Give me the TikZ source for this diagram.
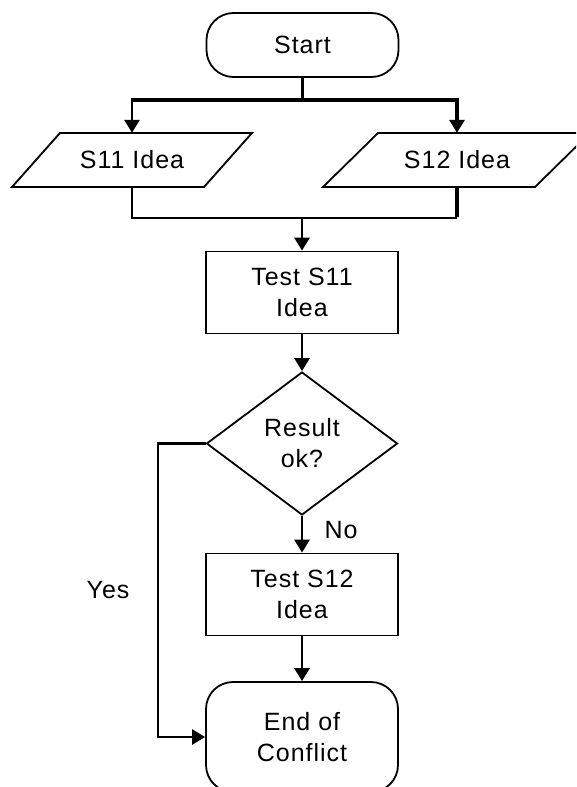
\documentclass[tikz,border=0pt]{standalone}
\usepackage{fontspec}
\setmainfont{Liberation Sans}[LetterSpace=4]
\usetikzlibrary{arrows.meta,shapes.geometric}
\begin{document}
\begin{tikzpicture}[x=1pt,y=-1pt,
  txt/.style={font=\fontsize{25}{31}\selectfont},
  outline/.style={draw, line width=1.8pt},
  box/.style={outline, txt, align=center, inner sep=0pt,
    minimum width=192pt, minimum height=82pt},
  term/.style={outline, txt, align=center, inner sep=0pt,
    rounded corners=27pt, minimum width=192pt},
  decision/.style={diamond, outline, txt, align=center, inner sep=0pt,
    aspect=1.3, minimum width=191pt, minimum height=143pt},
  anchorbox/.style={inner sep=0pt, minimum height=54pt, txt},
  flow/.style={line width=2.8pt},
  heavy/.style={line width=4.5pt},
  arrow/.style={flow, -{Triangle[length=13pt,width=15pt]}},
  heavyarrow/.style={heavy, -{Triangle[length=13pt,width=15pt]}}
]
\useasboundingbox (0,0) rectangle (576,787);
\clip (0,0) rectangle (576,787);
\fill[white] (0,0) rectangle (576,787);

% terminals, process boxes and the decision
\node[term, minimum height=64pt] (start) at (302.5,45) {Start};
\node[box] (test1) at (302,292.5) {Test S11\\Idea};
\node[decision] (check) at (302,443.5) {Result\\ok?};
\node[box] (test2) at (302,594.5) {Test S12\\Idea};
\node[term, minimum height=110pt] (stop) at (302,737) {End of\\Conflict};

% input parallelograms, with a text node inside each
\draw[outline] (60,133) -- (252,133) -- (204,187) -- (12,187) -- cycle;
\node[anchorbox] (idea1) at (132,160) {S11 Idea};
\draw[outline] (378,133) -- (590,133) -- (535,187) -- (323,187) -- cycle;
\node[anchorbox] (idea2) at (457,160) {S12 Idea};

% split from Start into the two ideas
\coordinate (split) at (302.5,100);
\coordinate (splitL) at (idea1.north |- split);
\coordinate (splitR) at (idea2.north |- split);
\draw[flow] (start.south) -- (split);
\draw[heavy] ([xshift=-1.5pt]splitL) -- ([xshift=1.5pt]splitR);
\draw[arrow] (splitL) -- (idea1.north);
\draw[heavyarrow] (splitR) -- (idea2.north);

% merge of both ideas into the first test
\coordinate (merge) at (302,218);
\coordinate (mergeL) at (idea1.south |- merge);
\coordinate (mergeR) at (idea2.south |- merge);
\draw[flow] (idea1.south) -- (mergeL) -- (mergeR);
\draw[heavy] (idea2.south) -- ([yshift=1.4pt]mergeR);
\draw[arrow] (merge) -- (test1.north);

% main flow
\draw[arrow] (test1.south) -- (check.north);
\draw[arrow] (check.south) -- (test2.north);
\draw[arrow] (test2.south) -- (stop.north);

% the Yes branch around the left side
\coordinate (yesTop) at (158,443.5);
\coordinate (yesBot) at (158,737);
\draw[flow] (check.west) -- (yesTop) -- (yesBot);
\draw[arrow] ([xshift=-1.4pt]yesBot) -- (stop.west);

% branch labels
\node[txt] (nolabel) at (341,530) {No};
\node[txt] (yeslabel) at (108,590) {Yes};
\end{tikzpicture}
\end{document}
